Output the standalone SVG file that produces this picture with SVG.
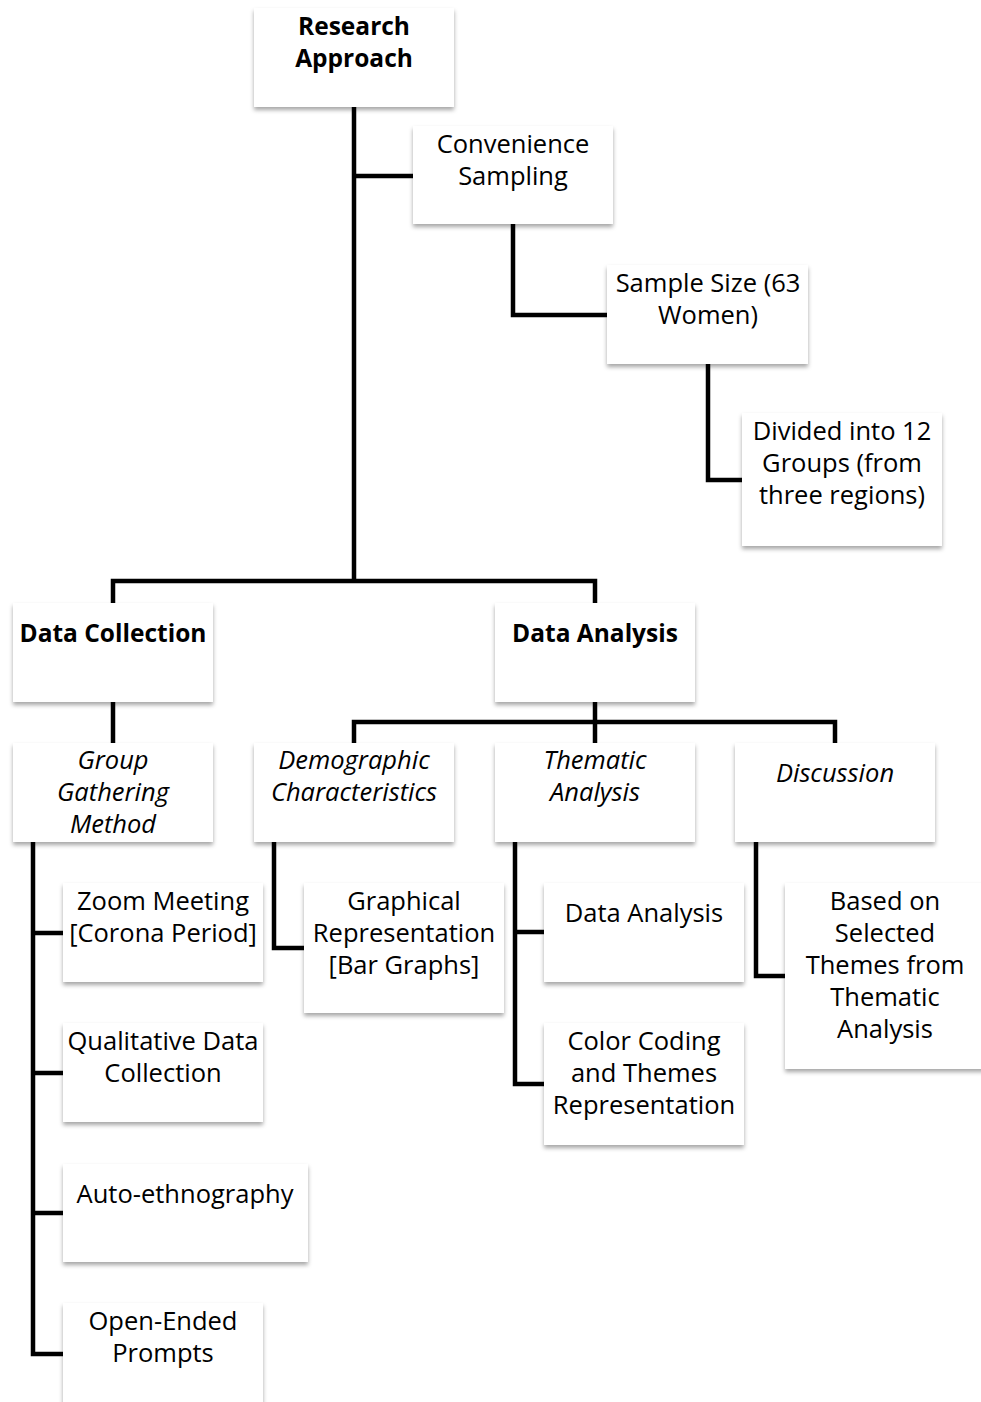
<svg xmlns="http://www.w3.org/2000/svg" width="981" height="1402" viewBox="0 0 981 1402">
<defs>
<filter id="sh" x="-10%" y="-10%" width="120%" height="130%">
<feDropShadow dx="0" dy="3" stdDeviation="2" flood-color="#000" flood-opacity="0.35"/>
</filter>
<style>
.box{fill:#fff;filter:url(#sh)}
.t{font-family:"Open Sans","Liberation Sans",sans-serif;font-size:25.5px;fill:#000;text-anchor:middle}
.b{font-weight:bold;font-size:24.5px}
.i{font-style:italic;font-size:25.5px}
.c{fill:none;stroke:#000;stroke-width:4.5;stroke-linejoin:miter;stroke-linecap:butt}
</style>
</defs>
<rect width="981" height="1402" fill="#fff"/>
<g id="connectors">
<path class="c" d="M354,107 V581"/>
<path class="c" d="M354,176 H413"/>
<path class="c" d="M513,224 V315 H607"/>
<path class="c" d="M708,364 V480 H742"/>
<path class="c" d="M113,603 V581 H595 V603"/>
<path class="c" d="M113,702 V743"/>
<path class="c" d="M595,702 V743"/>
<path class="c" d="M354,743 V722 H835 V743"/>
<path class="c" d="M33,842 V1354 H63"/>
<path class="c" d="M33,933 H63 M33,1073 H63 M33,1213 H63"/>
<path class="c" d="M274,842 V948 H304"/>
<path class="c" d="M515,842 V1084 H544 M515,932 H544"/>
<path class="c" d="M756,842 V976 H785"/>
</g>
<g id="n-research"><rect class="box" x="254" y="8" width="200" height="99"/><text class="t b" x="354" y="35">Research</text><text class="t b" x="354" y="67">Approach</text></g>
<g id="n-convenience"><rect class="box" x="413" y="126" width="200" height="98"/><text class="t" x="513" y="153">Convenience</text><text class="t" x="513" y="185">Sampling</text></g>
<g id="n-sample"><rect class="box" x="607" y="265" width="201" height="99"/><text class="t" x="708" y="292">Sample Size (63</text><text class="t" x="708" y="324">Women)</text></g>
<g id="n-divided"><rect class="box" x="742" y="413" width="200" height="133"/><text class="t" x="842" y="440">Divided into 12</text><text class="t" x="842" y="472">Groups (from</text><text class="t" x="842" y="504">three regions)</text></g>
<g id="n-datacollection"><rect class="box" x="13" y="603" width="200" height="99"/><text class="t b" x="113" y="642">Data Collection</text></g>
<g id="n-dataanalysis"><rect class="box" x="495" y="603" width="200" height="99"/><text class="t b" x="595" y="642">Data Analysis</text></g>
<g id="n-group"><rect class="box" x="13" y="743" width="200" height="99"/><text class="t i" x="113" y="769">Group</text><text class="t i" x="113" y="801">Gathering</text><text class="t i" x="113" y="833">Method</text></g>
<g id="n-demographic"><rect class="box" x="254" y="743" width="200" height="99"/><text class="t i" x="354" y="769">Demographic</text><text class="t i" x="354" y="801">Characteristics</text></g>
<g id="n-thematic"><rect class="box" x="495" y="743" width="200" height="99"/><text class="t i" x="595" y="769">Thematic</text><text class="t i" x="595" y="801">Analysis</text></g>
<g id="n-discussion"><rect class="box" x="735" y="743" width="200" height="99"/><text class="t i" x="835" y="782">Discussion</text></g>
<g id="n-zoom"><rect class="box" x="63" y="883" width="200" height="99"/><text class="t" x="163" y="910">Zoom Meeting</text><text class="t" x="163" y="942">[Corona Period]</text></g>
<g id="n-graphical"><rect class="box" x="304" y="883" width="200" height="130"/><text class="t" x="404" y="910">Graphical</text><text class="t" x="404" y="942">Representation</text><text class="t" x="404" y="974">[Bar Graphs]</text></g>
<g id="n-dataanalysis2"><rect class="box" x="544" y="883" width="200" height="99"/><text class="t" x="644" y="922">Data Analysis</text></g>
<g id="n-based"><rect class="box" x="785" y="883" width="200" height="186"/><text class="t" x="885" y="910">Based on</text><text class="t" x="885" y="942">Selected</text><text class="t" x="885" y="974">Themes from</text><text class="t" x="885" y="1006">Thematic</text><text class="t" x="885" y="1038">Analysis</text></g>
<g id="n-qualitative"><rect class="box" x="63" y="1023" width="200" height="99"/><text class="t" x="163" y="1050">Qualitative Data</text><text class="t" x="163" y="1082">Collection</text></g>
<g id="n-color"><rect class="box" x="544" y="1023" width="200" height="122"/><text class="t" x="644" y="1050">Color Coding</text><text class="t" x="644" y="1082">and Themes</text><text class="t" x="644" y="1114">Representation</text></g>
<g id="n-auto"><rect class="box" x="63" y="1164" width="245" height="98"/><text class="t" x="185" y="1203">Auto-ethnography</text></g>
<g id="n-open"><rect class="box" x="63" y="1303" width="200" height="110"/><text class="t" x="163" y="1330">Open-Ended</text><text class="t" x="163" y="1362">Prompts</text></g>
</svg>
